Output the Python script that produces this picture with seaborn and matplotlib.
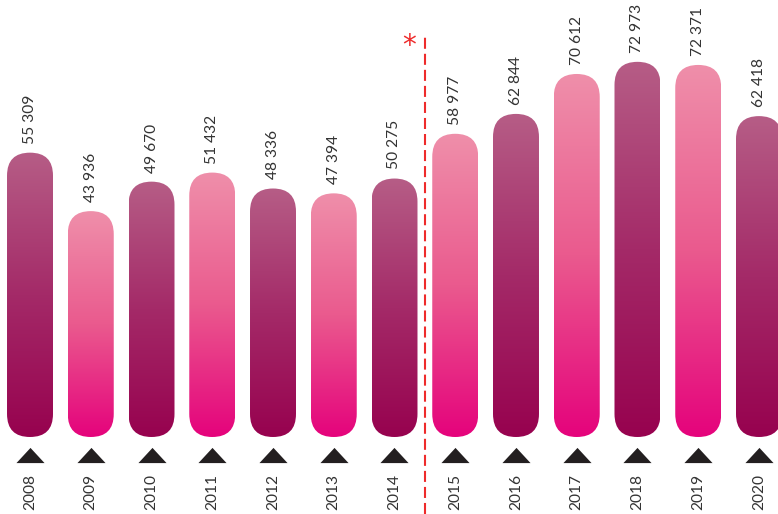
import numpy as np
import pandas as pd
import matplotlib
matplotlib.use("Agg")
import matplotlib.pyplot as plt
import seaborn as sns
from matplotlib.patches import FancyBboxPatch
from matplotlib.transforms import IdentityTransform
from matplotlib.colors import LinearSegmentedColormap

# Yearly totals
years = ["2008", "2009", "2010", "2011", "2012", "2013", "2014",
         "2015", "2016", "2017", "2018", "2019", "2020"]
values = [55309, 43936, 49670, 51432, 48336, 47394, 50275,
          58977, 62844, 70612, 72973, 72371, 62418]

df = pd.DataFrame({"year": years, "value": values})

sns.set_theme(style="white")
plt.rcParams["font.family"] = ["Lato", "DejaVu Sans"]

W, H, DPI = 778, 514, 100
fig = plt.figure(figsize=(W / DPI, H / DPI), dpi=DPI)
ax = fig.add_axes([0, 0, 1, 1])

sns.barplot(data=df, x="year", y="value", ax=ax, width=0.757,
            color="#b0b0b0", saturation=1)

# scale: bar baseline near the lower edge, room for labels above
ax.set_ylim(-14977, 85000)
ax.set_xlim(-0.494, 12.313)
ax.axis("off")

dark = LinearSegmentedColormap.from_list("dark", ["#97024f", "#a42a68", "#b65d86"])
pink = LinearSegmentedColormap.from_list("pink", ["#e5037c", "#ea5a8e", "#ef8faa"])
grad = np.linspace(0, 1, 256).reshape(-1, 1)

text_color = "#333333"
label_font = dict(fontsize=11.2, fontweight="normal", color=text_color)

fig.canvas.draw()
for i, bar in enumerate(list(ax.patches)):
    x0, y0 = bar.get_x(), bar.get_y()
    x1, y1 = x0 + bar.get_width(), y0 + bar.get_height()
    bar.set_visible(False)
    (px0, py0), (px1, py1) = ax.transData.transform([(x0, y0), (x1, y1)])
    r = (px1 - px0) / 2
    pill = FancyBboxPatch((px0, py0), px1 - px0, py1 - py0,
                          boxstyle=f"round,pad=0,rounding_size={r}",
                          transform=IdentityTransform(), facecolor="none",
                          edgecolor="none")
    ax.add_patch(pill)
    cmap = dark if i % 2 == 0 else pink
    im = ax.imshow(grad, cmap=cmap, origin="lower", aspect="auto",
                   extent=(x0, x1, y0, y1), interpolation="bilinear", zorder=2)
    im.set_clip_path(pill)

    xc = x0 + bar.get_width() / 2
    label = f"{values[i]:,}".replace(",", " ")
    ax.annotate(label, (xc, values[i]), xytext=(0, 6.5), textcoords="offset points",
                rotation=90, ha="center", va="bottom", zorder=3, **label_font)

xt = ax.get_xaxis_transform()
positions = np.arange(len(years))
ax.scatter(positions, [1 - 455 / H] * len(years), transform=xt,
           marker=[(-1, -0.54), (1, -0.54), (0, 0.54)], s=410,
           color="#231f20", linewidths=0, zorder=3)
for p, yr in zip(positions, years):
    ax.text(p, 1 - 474 / H, yr, transform=xt, rotation=90, ha="center",
            va="top", **label_font)

# break in the series between 2014 and 2015
ax.plot([6.5, 6.5], [0, 1 - 37 / H], transform=xt, color="#ee2b2b",
        lw=1.5, dashes=(5.3, 2.4), zorder=3)
ax.text(6.245, 1 - 46 / H, "*", transform=xt, ha="center", va="center",
        fontsize=20, color="#ee2b2b", family="DejaVu Sans")

fig.savefig("out.png", dpi=DPI)
